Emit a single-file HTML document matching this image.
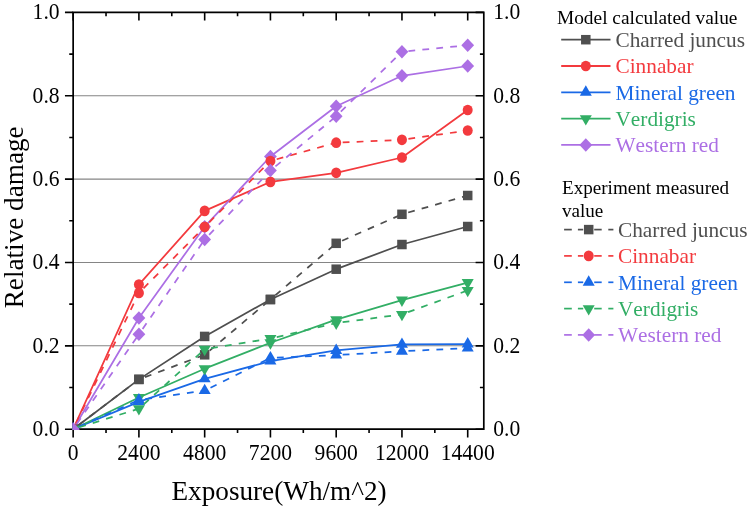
<!DOCTYPE html><html><head><meta charset="utf-8"><style>html,body{margin:0;padding:0;background:#fff;}svg{display:block;will-change:transform;font-family:"Liberation Serif",serif;font-kerning:none;}</style></head><body>
<svg width="749" height="508" viewBox="0 0 749 508">
<rect width="749" height="508" fill="#fff"/>
<line x1="73.15" x2="483.8" y1="345.84" y2="345.84" stroke="#858585" stroke-width="1.05"/>
<line x1="73.15" x2="483.8" y1="262.48" y2="262.48" stroke="#858585" stroke-width="1.05"/>
<line x1="73.15" x2="483.8" y1="179.12" y2="179.12" stroke="#858585" stroke-width="1.05"/>
<line x1="73.15" x2="483.8" y1="95.76" y2="95.76" stroke="#858585" stroke-width="1.05"/>
<g stroke="#000" stroke-width="1.7" fill="none">
<path d="M73.15 12.35V429.2M72.30000000000001 429.2H484.65000000000003M72.30000000000001 12.35H484.65000000000003M483.8 12.35V429.2"/>
<path d="M73.15 429.2v8.2M73.15 12.35v8.2M106.03 429.2v3.9M106.03 12.35v3.9M138.91 429.2v8.2M138.91 12.35v8.2M171.79 429.2v3.9M171.79 12.35v3.9M204.67 429.2v8.2M204.67 12.35v8.2M237.55 429.2v3.9M237.55 12.35v3.9M270.43 429.2v8.2M270.43 12.35v8.2M303.31 429.2v3.9M303.31 12.35v3.9M336.19 429.2v8.2M336.19 12.35v8.2M369.07 429.2v3.9M369.07 12.35v3.9M401.95 429.2v8.2M401.95 12.35v8.2M434.83 429.2v3.9M434.83 12.35v3.9M467.71 429.2v8.2M467.71 12.35v8.2M73.15 429.20h-8.2M483.8 429.20h-8.2M73.15 387.52h-3.9M483.8 387.52h-3.9M73.15 345.84h-8.2M483.8 345.84h-8.2M73.15 304.16h-3.9M483.8 304.16h-3.9M73.15 262.48h-8.2M483.8 262.48h-8.2M73.15 220.80h-3.9M483.8 220.80h-3.9M73.15 179.12h-8.2M483.8 179.12h-8.2M73.15 137.44h-3.9M483.8 137.44h-3.9M73.15 95.76h-8.2M483.8 95.76h-8.2M73.15 54.08h-3.9M483.8 54.08h-3.9M73.15 12.40h-8.2M483.8 12.40h-8.2" stroke-width="1.6"/>
</g>
<defs><clipPath id="pc"><rect x="72.5" y="12.35" width="411.3" height="417.54999999999995"/></clipPath></defs>
<g clip-path="url(#pc)">
<polyline points="73.15,429.20 138.91,379.39 204.67,336.42 270.43,299.49 336.19,269.19 401.95,244.52 467.71,226.51" fill="none" stroke="#4f4f4f" stroke-width="1.75" stroke-linejoin="round"/>
<rect x="68.40" y="424.45" width="9.50" height="9.50" fill="#4f4f4f"/>
<rect x="134.16" y="374.64" width="9.50" height="9.50" fill="#4f4f4f"/>
<rect x="199.92" y="331.67" width="9.50" height="9.50" fill="#4f4f4f"/>
<rect x="265.68" y="294.74" width="9.50" height="9.50" fill="#4f4f4f"/>
<rect x="331.44" y="264.44" width="9.50" height="9.50" fill="#4f4f4f"/>
<rect x="397.20" y="239.77" width="9.50" height="9.50" fill="#4f4f4f"/>
<rect x="462.96" y="221.76" width="9.50" height="9.50" fill="#4f4f4f"/>
<polyline points="73.15,429.20 138.91,284.57 204.67,210.88 270.43,181.87 336.19,172.78 401.95,157.49 467.71,110.01" fill="none" stroke="#f33a3e" stroke-width="1.75" stroke-linejoin="round"/>
<ellipse cx="73.15" cy="429.20" rx="5.0" ry="5.35" fill="#f33a3e"/>
<ellipse cx="138.91" cy="284.57" rx="5.0" ry="5.35" fill="#f33a3e"/>
<ellipse cx="204.67" cy="210.88" rx="5.0" ry="5.35" fill="#f33a3e"/>
<ellipse cx="270.43" cy="181.87" rx="5.0" ry="5.35" fill="#f33a3e"/>
<ellipse cx="336.19" cy="172.78" rx="5.0" ry="5.35" fill="#f33a3e"/>
<ellipse cx="401.95" cy="157.49" rx="5.0" ry="5.35" fill="#f33a3e"/>
<ellipse cx="467.71" cy="110.01" rx="5.0" ry="5.35" fill="#f33a3e"/>
<polyline points="73.15,429.20 138.91,401.86 204.67,378.85 270.43,361.14 336.19,350.42 401.95,344.34 467.71,344.05" fill="none" stroke="#1a69e6" stroke-width="1.75" stroke-linejoin="round"/>
<path d="M73.15 422.27L79.15 432.66L67.15 432.66Z" fill="#1a69e6"/>
<path d="M138.91 394.93L144.91 405.32L132.91 405.32Z" fill="#1a69e6"/>
<path d="M204.67 371.92L210.67 382.31L198.67 382.31Z" fill="#1a69e6"/>
<path d="M270.43 354.21L276.43 364.60L264.43 364.60Z" fill="#1a69e6"/>
<path d="M336.19 343.50L342.19 353.89L330.19 353.89Z" fill="#1a69e6"/>
<path d="M401.95 337.41L407.95 347.80L395.95 347.80Z" fill="#1a69e6"/>
<path d="M467.71 337.12L473.71 347.51L461.71 347.51Z" fill="#1a69e6"/>
<polyline points="73.15,429.20 138.91,397.44 204.67,368.68 270.43,342.76 336.19,319.66 401.95,300.08 467.71,282.57" fill="none" stroke="#32ae65" stroke-width="1.75" stroke-linejoin="round"/>
<path d="M73.15 436.13L79.15 425.74L67.15 425.74Z" fill="#32ae65"/>
<path d="M138.91 404.37L144.91 393.98L132.91 393.98Z" fill="#32ae65"/>
<path d="M204.67 375.61L210.67 365.22L198.67 365.22Z" fill="#32ae65"/>
<path d="M270.43 349.68L276.43 339.29L264.43 339.29Z" fill="#32ae65"/>
<path d="M336.19 326.59L342.19 316.20L330.19 316.20Z" fill="#32ae65"/>
<path d="M401.95 307.00L407.95 296.61L395.95 296.61Z" fill="#32ae65"/>
<path d="M467.71 289.50L473.71 279.11L461.71 279.11Z" fill="#32ae65"/>
<polyline points="73.15,429.20 138.91,318.00 204.67,226.64 270.43,156.49 336.19,106.31 401.95,75.80 467.71,66.00" fill="none" stroke="#ac6fe4" stroke-width="1.75" stroke-linejoin="round"/>
<path d="M73.15 422.45L79.55 429.20L73.15 435.95L66.75 429.20Z" fill="#ac6fe4"/>
<path d="M138.91 311.25L145.31 318.00L138.91 324.75L132.51 318.00Z" fill="#ac6fe4"/>
<path d="M204.67 219.89L211.07 226.64L204.67 233.39L198.27 226.64Z" fill="#ac6fe4"/>
<path d="M270.43 149.74L276.83 156.49L270.43 163.24L264.03 156.49Z" fill="#ac6fe4"/>
<path d="M336.19 99.56L342.59 106.31L336.19 113.06L329.79 106.31Z" fill="#ac6fe4"/>
<path d="M401.95 69.05L408.35 75.80L401.95 82.55L395.55 75.80Z" fill="#ac6fe4"/>
<path d="M467.71 59.25L474.11 66.00L467.71 72.75L461.31 66.00Z" fill="#ac6fe4"/>
<line x1="73.15" y1="429.20" x2="138.91" y2="379.39" stroke="#4f4f4f" stroke-width="1.75" stroke-dasharray="6.8 7.2" stroke-dashoffset="7.5"/>
<line x1="138.91" y1="379.39" x2="204.67" y2="354.80" stroke="#4f4f4f" stroke-width="1.75" stroke-dasharray="6.8 7.2" stroke-dashoffset="7.5"/>
<line x1="204.67" y1="354.80" x2="270.43" y2="299.49" stroke="#4f4f4f" stroke-width="1.75" stroke-dasharray="6.8 7.2" stroke-dashoffset="7.5"/>
<line x1="270.43" y1="299.49" x2="336.19" y2="243.31" stroke="#4f4f4f" stroke-width="1.75" stroke-dasharray="6.8 7.2" stroke-dashoffset="7.5"/>
<line x1="336.19" y1="243.31" x2="401.95" y2="214.30" stroke="#4f4f4f" stroke-width="1.75" stroke-dasharray="6.8 7.2" stroke-dashoffset="7.5"/>
<line x1="401.95" y1="214.30" x2="467.71" y2="195.50" stroke="#4f4f4f" stroke-width="1.75" stroke-dasharray="6.8 7.2" stroke-dashoffset="7.5"/>
<rect x="68.40" y="424.45" width="9.50" height="9.50" fill="#4f4f4f"/>
<rect x="134.16" y="374.64" width="9.50" height="9.50" fill="#4f4f4f"/>
<rect x="199.92" y="350.05" width="9.50" height="9.50" fill="#4f4f4f"/>
<rect x="265.68" y="294.74" width="9.50" height="9.50" fill="#4f4f4f"/>
<rect x="331.44" y="238.56" width="9.50" height="9.50" fill="#4f4f4f"/>
<rect x="397.20" y="209.55" width="9.50" height="9.50" fill="#4f4f4f"/>
<rect x="462.96" y="190.75" width="9.50" height="9.50" fill="#4f4f4f"/>
<line x1="73.15" y1="429.20" x2="138.91" y2="292.91" stroke="#f33a3e" stroke-width="1.75" stroke-dasharray="6.8 7.2" stroke-dashoffset="7.5"/>
<line x1="138.91" y1="292.91" x2="204.67" y2="226.89" stroke="#f33a3e" stroke-width="1.75" stroke-dasharray="6.8 7.2" stroke-dashoffset="7.5"/>
<line x1="204.67" y1="226.89" x2="270.43" y2="160.99" stroke="#f33a3e" stroke-width="1.75" stroke-dasharray="6.8 7.2" stroke-dashoffset="7.5"/>
<line x1="270.43" y1="160.99" x2="336.19" y2="142.69" stroke="#f33a3e" stroke-width="1.75" stroke-dasharray="6.8 7.2" stroke-dashoffset="7.5"/>
<line x1="336.19" y1="142.69" x2="401.95" y2="139.82" stroke="#f33a3e" stroke-width="1.75" stroke-dasharray="6.8 7.2" stroke-dashoffset="7.5"/>
<line x1="401.95" y1="139.82" x2="467.71" y2="130.48" stroke="#f33a3e" stroke-width="1.75" stroke-dasharray="6.8 7.2" stroke-dashoffset="7.5"/>
<ellipse cx="73.15" cy="429.20" rx="5.0" ry="5.35" fill="#f33a3e"/>
<ellipse cx="138.91" cy="292.91" rx="5.0" ry="5.35" fill="#f33a3e"/>
<ellipse cx="204.67" cy="226.89" rx="5.0" ry="5.35" fill="#f33a3e"/>
<ellipse cx="270.43" cy="160.99" rx="5.0" ry="5.35" fill="#f33a3e"/>
<ellipse cx="336.19" cy="142.69" rx="5.0" ry="5.35" fill="#f33a3e"/>
<ellipse cx="401.95" cy="139.82" rx="5.0" ry="5.35" fill="#f33a3e"/>
<ellipse cx="467.71" cy="130.48" rx="5.0" ry="5.35" fill="#f33a3e"/>
<line x1="73.15" y1="429.20" x2="138.91" y2="399.98" stroke="#1a69e6" stroke-width="1.75" stroke-dasharray="6.8 7.2" stroke-dashoffset="7.5"/>
<line x1="138.91" y1="399.98" x2="204.67" y2="390.60" stroke="#1a69e6" stroke-width="1.75" stroke-dasharray="6.8 7.2" stroke-dashoffset="7.5"/>
<line x1="204.67" y1="390.60" x2="270.43" y2="357.89" stroke="#1a69e6" stroke-width="1.75" stroke-dasharray="6.8 7.2" stroke-dashoffset="7.5"/>
<line x1="270.43" y1="357.89" x2="336.19" y2="355.09" stroke="#1a69e6" stroke-width="1.75" stroke-dasharray="6.8 7.2" stroke-dashoffset="7.5"/>
<line x1="336.19" y1="355.09" x2="401.95" y2="351.30" stroke="#1a69e6" stroke-width="1.75" stroke-dasharray="6.8 7.2" stroke-dashoffset="7.5"/>
<line x1="401.95" y1="351.30" x2="467.71" y2="348.09" stroke="#1a69e6" stroke-width="1.75" stroke-dasharray="6.8 7.2" stroke-dashoffset="7.5"/>
<path d="M73.15 422.27L79.15 432.66L67.15 432.66Z" fill="#1a69e6"/>
<path d="M138.91 393.06L144.91 403.45L132.91 403.45Z" fill="#1a69e6"/>
<path d="M204.67 383.68L210.67 394.07L198.67 394.07Z" fill="#1a69e6"/>
<path d="M270.43 350.96L276.43 361.35L264.43 361.35Z" fill="#1a69e6"/>
<path d="M336.19 348.17L342.19 358.56L330.19 358.56Z" fill="#1a69e6"/>
<path d="M401.95 344.37L407.95 354.76L395.95 354.76Z" fill="#1a69e6"/>
<path d="M467.71 341.16L473.71 351.55L461.71 351.55Z" fill="#1a69e6"/>
<line x1="73.15" y1="429.20" x2="138.91" y2="408.69" stroke="#32ae65" stroke-width="1.75" stroke-dasharray="6.8 7.2" stroke-dashoffset="7.5"/>
<line x1="138.91" y1="408.69" x2="204.67" y2="349.22" stroke="#32ae65" stroke-width="1.75" stroke-dasharray="6.8 7.2" stroke-dashoffset="7.5"/>
<line x1="204.67" y1="349.22" x2="270.43" y2="338.59" stroke="#32ae65" stroke-width="1.75" stroke-dasharray="6.8 7.2" stroke-dashoffset="7.5"/>
<line x1="270.43" y1="338.59" x2="336.19" y2="323.08" stroke="#32ae65" stroke-width="1.75" stroke-dasharray="6.8 7.2" stroke-dashoffset="7.5"/>
<line x1="336.19" y1="323.08" x2="401.95" y2="314.41" stroke="#32ae65" stroke-width="1.75" stroke-dasharray="6.8 7.2" stroke-dashoffset="7.5"/>
<line x1="401.95" y1="314.41" x2="467.71" y2="290.41" stroke="#32ae65" stroke-width="1.75" stroke-dasharray="6.8 7.2" stroke-dashoffset="7.5"/>
<path d="M73.15 436.13L79.15 425.74L67.15 425.74Z" fill="#32ae65"/>
<path d="M138.91 415.62L144.91 405.23L132.91 405.23Z" fill="#32ae65"/>
<path d="M204.67 356.14L210.67 345.75L198.67 345.75Z" fill="#32ae65"/>
<path d="M270.43 345.51L276.43 335.12L264.43 335.12Z" fill="#32ae65"/>
<path d="M336.19 330.01L342.19 319.62L330.19 319.62Z" fill="#32ae65"/>
<path d="M401.95 321.34L407.95 310.95L395.95 310.95Z" fill="#32ae65"/>
<path d="M467.71 297.33L473.71 286.94L461.71 286.94Z" fill="#32ae65"/>
<line x1="73.15" y1="429.20" x2="138.91" y2="334.29" stroke="#ac6fe4" stroke-width="1.75" stroke-dasharray="6.8 7.2" stroke-dashoffset="7.5"/>
<line x1="138.91" y1="334.29" x2="204.67" y2="239.56" stroke="#ac6fe4" stroke-width="1.75" stroke-dasharray="6.8 7.2" stroke-dashoffset="7.5"/>
<line x1="204.67" y1="239.56" x2="270.43" y2="170.58" stroke="#ac6fe4" stroke-width="1.75" stroke-dasharray="6.8 7.2" stroke-dashoffset="7.5"/>
<line x1="270.43" y1="170.58" x2="336.19" y2="116.27" stroke="#ac6fe4" stroke-width="1.75" stroke-dasharray="6.8 7.2" stroke-dashoffset="7.5"/>
<line x1="336.19" y1="116.27" x2="401.95" y2="51.70" stroke="#ac6fe4" stroke-width="1.75" stroke-dasharray="6.8 7.2" stroke-dashoffset="7.5"/>
<line x1="401.95" y1="51.70" x2="467.71" y2="45.24" stroke="#ac6fe4" stroke-width="1.75" stroke-dasharray="6.8 7.2" stroke-dashoffset="7.5"/>
<path d="M73.15 422.45L79.55 429.20L73.15 435.95L66.75 429.20Z" fill="#ac6fe4"/>
<path d="M138.91 327.54L145.31 334.29L138.91 341.04L132.51 334.29Z" fill="#ac6fe4"/>
<path d="M204.67 232.81L211.07 239.56L204.67 246.31L198.27 239.56Z" fill="#ac6fe4"/>
<path d="M270.43 163.83L276.83 170.58L270.43 177.33L264.03 170.58Z" fill="#ac6fe4"/>
<path d="M336.19 109.52L342.59 116.27L336.19 123.02L329.79 116.27Z" fill="#ac6fe4"/>
<path d="M401.95 44.95L408.35 51.70L401.95 58.45L395.55 51.70Z" fill="#ac6fe4"/>
<path d="M467.71 38.49L474.11 45.24L467.71 51.99L461.31 45.24Z" fill="#ac6fe4"/>
</g>
<text transform="translate(59.60 436.10) scale(1 1.045)" font-size="21.6" text-anchor="end">0.0</text>
<text transform="translate(493.20 436.10) scale(1 1.045)" font-size="21.6">0.0</text>
<text transform="translate(59.60 352.74) scale(1 1.045)" font-size="21.6" text-anchor="end">0.2</text>
<text transform="translate(493.20 352.74) scale(1 1.045)" font-size="21.6">0.2</text>
<text transform="translate(59.60 269.38) scale(1 1.045)" font-size="21.6" text-anchor="end">0.4</text>
<text transform="translate(493.20 269.38) scale(1 1.045)" font-size="21.6">0.4</text>
<text transform="translate(59.60 186.02) scale(1 1.045)" font-size="21.6" text-anchor="end">0.6</text>
<text transform="translate(493.20 186.02) scale(1 1.045)" font-size="21.6">0.6</text>
<text transform="translate(59.60 102.66) scale(1 1.045)" font-size="21.6" text-anchor="end">0.8</text>
<text transform="translate(493.20 102.66) scale(1 1.045)" font-size="21.6">0.8</text>
<text transform="translate(59.60 19.30) scale(1 1.045)" font-size="21.6" text-anchor="end">1.0</text>
<text transform="translate(493.20 19.30) scale(1 1.045)" font-size="21.6">1.0</text>
<text transform="translate(73.15 460.10) scale(1 1.045)" font-size="21.6" text-anchor="middle">0</text>
<text transform="translate(138.91 460.10) scale(1 1.045)" font-size="21.6" text-anchor="middle">2400</text>
<text transform="translate(204.67 460.10) scale(1 1.045)" font-size="21.6" text-anchor="middle">4800</text>
<text transform="translate(270.43 460.10) scale(1 1.045)" font-size="21.6" text-anchor="middle">7200</text>
<text transform="translate(336.19 460.10) scale(1 1.045)" font-size="21.6" text-anchor="middle">9600</text>
<text transform="translate(401.95 460.10) scale(1 1.045)" font-size="21.6" text-anchor="middle">12000</text>
<text transform="translate(467.71 460.10) scale(1 1.045)" font-size="21.6" text-anchor="middle">14400</text>
<text transform="translate(171.50 499.60)" font-size="27.2">Exposure(Wh/m^2)</text>
<text transform="translate(22.50 308.30) rotate(-90)" font-size="27.2">Relative damage</text>
<text transform="translate(557.00 24.00)" font-size="19.35">Model calculated value</text>
<line x1="561.2" x2="610.5" y1="39.7" y2="39.7" stroke="#4f4f4f" stroke-width="1.8"/>
<rect x="581.05" y="34.95" width="9.50" height="9.50" fill="#4f4f4f"/>
<text transform="translate(615.50 47.00) scale(1 1.02)" font-size="21.3" fill="#4f4f4f">Charred juncus</text>
<line x1="561.2" x2="610.5" y1="66.0" y2="66.0" stroke="#f33a3e" stroke-width="1.8"/>
<ellipse cx="585.80" cy="66.00" rx="5.0" ry="5.35" fill="#f33a3e"/>
<text transform="translate(615.50 73.30) scale(1 1.02)" font-size="21.3" fill="#f33a3e">Cinnabar</text>
<line x1="561.2" x2="610.5" y1="92.3" y2="92.3" stroke="#1a69e6" stroke-width="1.8"/>
<path d="M585.80 85.37L591.80 95.76L579.80 95.76Z" fill="#1a69e6"/>
<text transform="translate(615.50 99.60) scale(1 1.02)" font-size="21.3" fill="#1a69e6">Mineral green</text>
<line x1="561.2" x2="610.5" y1="118.6" y2="118.6" stroke="#32ae65" stroke-width="1.8"/>
<path d="M585.80 125.53L591.80 115.14L579.80 115.14Z" fill="#32ae65"/>
<text transform="translate(615.50 125.90) scale(1 1.02)" font-size="21.3" fill="#32ae65">Verdigris</text>
<line x1="561.2" x2="610.5" y1="144.9" y2="144.9" stroke="#ac6fe4" stroke-width="1.8"/>
<path d="M585.80 138.15L592.20 144.90L585.80 151.65L579.40 144.90Z" fill="#ac6fe4"/>
<text transform="translate(615.50 152.20) scale(1 1.02)" font-size="21.3" fill="#ac6fe4">Western red</text>
<text transform="translate(562.00 193.60)" font-size="19.1">Experiment measured</text>
<text transform="translate(562.00 216.90)" font-size="19.1">value</text>
<line x1="564.1" x2="571.8" y1="229.6" y2="229.6" stroke="#4f4f4f" stroke-width="1.7"/>
<line x1="577.9" x2="583.2" y1="229.6" y2="229.6" stroke="#4f4f4f" stroke-width="1.7"/>
<line x1="594.2" x2="601.7" y1="229.6" y2="229.6" stroke="#4f4f4f" stroke-width="1.7"/>
<line x1="608.3" x2="613.4" y1="229.6" y2="229.6" stroke="#4f4f4f" stroke-width="1.7"/>
<rect x="583.95" y="224.85" width="9.50" height="9.50" fill="#4f4f4f"/>
<text transform="translate(618.00 236.90) scale(1 1.02)" font-size="21.3" fill="#4f4f4f">Charred juncus</text>
<line x1="564.1" x2="571.8" y1="255.9" y2="255.9" stroke="#f33a3e" stroke-width="1.7"/>
<line x1="577.9" x2="583.2" y1="255.9" y2="255.9" stroke="#f33a3e" stroke-width="1.7"/>
<line x1="594.2" x2="601.7" y1="255.9" y2="255.9" stroke="#f33a3e" stroke-width="1.7"/>
<line x1="608.3" x2="613.4" y1="255.9" y2="255.9" stroke="#f33a3e" stroke-width="1.7"/>
<ellipse cx="588.70" cy="255.90" rx="5.0" ry="5.35" fill="#f33a3e"/>
<text transform="translate(618.00 263.20) scale(1 1.02)" font-size="21.3" fill="#f33a3e">Cinnabar</text>
<line x1="564.1" x2="571.8" y1="282.3" y2="282.3" stroke="#1a69e6" stroke-width="1.7"/>
<line x1="577.9" x2="583.2" y1="282.3" y2="282.3" stroke="#1a69e6" stroke-width="1.7"/>
<line x1="594.2" x2="601.7" y1="282.3" y2="282.3" stroke="#1a69e6" stroke-width="1.7"/>
<line x1="608.3" x2="613.4" y1="282.3" y2="282.3" stroke="#1a69e6" stroke-width="1.7"/>
<path d="M588.70 275.37L594.70 285.76L582.70 285.76Z" fill="#1a69e6"/>
<text transform="translate(618.00 289.60) scale(1 1.02)" font-size="21.3" fill="#1a69e6">Mineral green</text>
<line x1="564.1" x2="571.8" y1="308.6" y2="308.6" stroke="#32ae65" stroke-width="1.7"/>
<line x1="577.9" x2="583.2" y1="308.6" y2="308.6" stroke="#32ae65" stroke-width="1.7"/>
<line x1="594.2" x2="601.7" y1="308.6" y2="308.6" stroke="#32ae65" stroke-width="1.7"/>
<line x1="608.3" x2="613.4" y1="308.6" y2="308.6" stroke="#32ae65" stroke-width="1.7"/>
<path d="M588.70 315.53L594.70 305.14L582.70 305.14Z" fill="#32ae65"/>
<text transform="translate(618.00 315.90) scale(1 1.02)" font-size="21.3" fill="#32ae65">Verdigris</text>
<line x1="564.1" x2="571.8" y1="334.9" y2="334.9" stroke="#ac6fe4" stroke-width="1.7"/>
<line x1="577.9" x2="583.2" y1="334.9" y2="334.9" stroke="#ac6fe4" stroke-width="1.7"/>
<line x1="594.2" x2="601.7" y1="334.9" y2="334.9" stroke="#ac6fe4" stroke-width="1.7"/>
<line x1="608.3" x2="613.4" y1="334.9" y2="334.9" stroke="#ac6fe4" stroke-width="1.7"/>
<path d="M588.70 328.15L595.10 334.90L588.70 341.65L582.30 334.90Z" fill="#ac6fe4"/>
<text transform="translate(618.00 342.20) scale(1 1.02)" font-size="21.3" fill="#ac6fe4">Western red</text>
</svg></body></html>
